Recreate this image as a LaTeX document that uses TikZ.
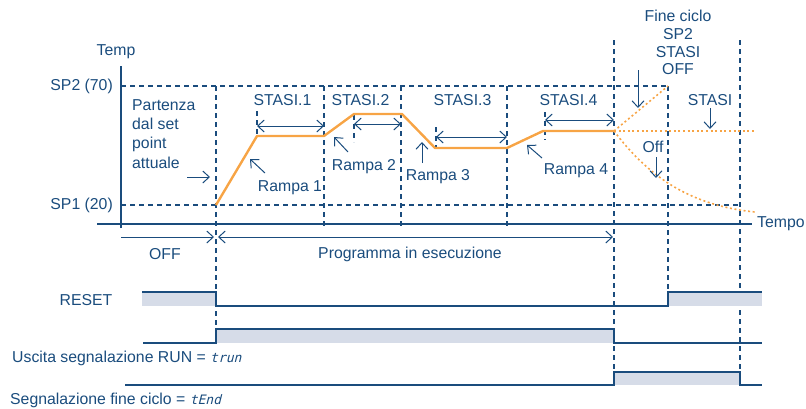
\documentclass[tikz,border=0pt]{standalone}
\usepackage{fontspec}
\setmainfont{Liberation Sans}
\newfontfamily\segfont{DejaVu Sans Mono}[FakeSlant=0.25]
\usetikzlibrary{arrows.meta}
\definecolor{navy}{HTML}{1A4C7D}
\definecolor{sigfill}{HTML}{D6DCE8}
\definecolor{prof}{HTML}{F7A445}
\tikzset{
  lbl/.style={font=\fontsize{15.8}{17.7}\selectfont, text=navy, inner sep=0pt},
  axisline/.style={navy, line width=2.2pt},
  guide/.style={navy, line width=1.2pt, dash pattern=on 5pt off 4pt},
  profile/.style={prof, line width=2.4pt, line join=round},
  profdot/.style={prof, line width=1.6pt, dash pattern=on 2pt off 2.6pt},
  pointer/.style={navy, line width=1pt, -{Straight Barb[length=6.5pt,width=12pt,line width=1pt]}},
  span/.style={navy, line width=1pt, {Straight Barb[length=6.5pt,width=12pt,line width=1pt]}-{Straight Barb[length=6.5pt,width=12pt,line width=1pt]}},
  sigline/.style={navy, line width=2pt, line join=miter},
}
\newcommand{\seg}[1]{{\segfont\fontsize{13}{14}\selectfont #1}}
\begin{document}
\begin{tikzpicture}[x=1pt,y=-1pt]
\useasboundingbox (0,0) rectangle (806,408);

% ---------- guide lines ----------
\draw[guide] (121,86) -- (668,86);
\draw[guide] (121,205) -- (738,205);
\draw[guide] (216,86) -- (216,330);
\draw[guide] (257,111) -- (257,136);
\draw[guide] (324,86) -- (324,228);
\draw[guide] (354,115) -- (354,142);
\draw[guide] (401,86) -- (401,228);
\draw[guide] (436,127) -- (436,148);
\draw[guide] (507,86) -- (507,228);
\draw[guide] (545,112) -- (545,140);
\draw[guide] (614,40) -- (614,372);
\draw[guide] (668,86) -- (668,292);
\draw[guide] (740,40) -- (740,385);

% ---------- axes ----------
\coordinate (ytop) at (121,66);
\coordinate (ybot) at (121,228);
\coordinate (xl) at (97,224);
\coordinate (xr) at (752,224);
\draw[axisline] (ybot) -- (ytop);
\draw[axisline] (xl) -- (xr);
\node[lbl] (temp) at (116,52) {Temp};
\node[lbl, anchor=west] (tempo) at (757,224) {Tempo};
\node[lbl, anchor=east] (sp2) at (113,86) {SP2 (70)};
\node[lbl, anchor=east] (sp1) at (113,205) {SP1 (20)};

% ---------- temperature profile ----------
\draw[profile] (216,205) -- (257,136) -- (324,136) -- (354,114) -- (402,114)
  -- (435,148) -- (507,148) -- (543,131) -- (614,131);
\coordinate (endp) at (614,131);
\draw[profdot] (endp) -- (668,86);
\draw[profdot] (endp) -- (755,131);
\draw[profdot] (endp) .. controls (645,172) and (685,205) .. (755,212);

% ---------- dwell spans ----------
\coordinate (s1a) at (257,126); \coordinate (s1b) at (324,126);
\coordinate (s2a) at (354,124); \coordinate (s2b) at (401,124);
\coordinate (s3a) at (436,137); \coordinate (s3b) at (507,137);
\coordinate (s4a) at (545,120); \coordinate (s4b) at (614,120);
\draw[span] (s1a) -- (s1b);
\draw[span] (s2a) -- (s2b);
\draw[span] (s3a) -- (s3b);
\draw[span] (s4a) -- (s4b);
\node[lbl] (st1) at (282.5,100) {STASI.1};
\node[lbl] (st2) at (360.5,100) {STASI.2};
\node[lbl] (st3) at (462.5,100) {STASI.3};
\node[lbl] (st4) at (568.5,100) {STASI.4};
\node[lbl] (st) at (710,100) {STASI};

% ---------- ramp labels and pointers ----------
\node[lbl] (r1) at (290,188) {Rampa 1};
\node[lbl] (r2) at (364,167) {Rampa 2};
\node[lbl] (r3) at (438,177) {Rampa 3};
\node[lbl] (r4) at (576,171) {Rampa 4};
\coordinate (r1t) at (265,173); \coordinate (r1h) at (250,159);
\coordinate (r2t) at (348,152); \coordinate (r2h) at (334,137);
\coordinate (r3t) at (422,163); \coordinate (r3h) at (422,142);
\coordinate (r4t) at (542,158); \coordinate (r4h) at (527,145);
\draw[pointer] (r1t) -- (r1h);
\draw[pointer] (r2t) -- (r2h);
\draw[pointer] (r3t) -- (r3h);
\draw[pointer] (r4t) -- (r4h);

% ---------- start note ----------
\node[lbl, align=left, anchor=west, font=\fontsize{15.8}{19.2}\selectfont] (part) at (132,134)
  {Partenza\\dal set\\point\\attuale};
\coordinate (pt) at (187,177); \coordinate (ph) at (210,177);
\draw[pointer] (pt) -- (ph);

% ---------- end of cycle ----------
\node[lbl, align=center] (fine) at (678,42.5) {Fine ciclo\\SP2\\STASI\\OFF};
\coordinate (ft) at (638,70); \coordinate (fh) at (638,108);
\draw[pointer] (ft) -- (fh);
\coordinate (stt) at (710,108); \coordinate (sth) at (710,129);
\draw[pointer] (stt) -- (sth);
\node[lbl] (off) at (653,147) {Off};
\coordinate (ot) at (656,157); \coordinate (oh) at (656,178);
\draw[pointer] (ot) -- (oh);

% ---------- phases ----------
\coordinate (o1) at (121,237); \coordinate (o2) at (214,237);
\coordinate (p1) at (218,237); \coordinate (p2) at (613,237);
\draw[pointer] (o1) -- (o2);
\draw[span] (p1) -- (p2);
\node[lbl] (offph) at (165,254) {OFF};
\node[lbl] (prog) at (410,254) {Programma in esecuzione};

% ---------- logic signals ----------
\fill[sigfill] (142,292) rectangle (216,306);
\fill[sigfill] (668,292) rectangle (762,306);
\draw[sigline] (142,292) -- (216,292) -- (216,306) -- (668,306) -- (668,292) -- (762,292);
\node[lbl] (reset) at (86,300) {RESET};

\fill[sigfill] (216,329) rectangle (614,343);
\draw[sigline] (143,343) -- (216,343) -- (216,329) -- (614,329) -- (614,343) -- (762,343);
\node[lbl, anchor=west] (run) at (12,358) {Uscita segnalazione RUN = \seg{trun}};

\fill[sigfill] (614,372) rectangle (740,385);
\draw[sigline] (125,385) -- (614,385) -- (614,372) -- (740,372) -- (740,385) -- (762,385);
\node[lbl, anchor=west] (tend) at (10,400) {Segnalazione fine ciclo = \seg{tEnd}};
\end{tikzpicture}
\end{document}
